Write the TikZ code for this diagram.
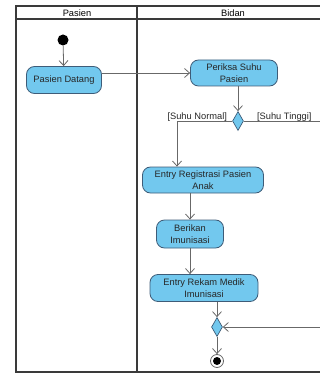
\documentclass[tikz,border=0pt]{standalone}
\usepackage{fontspec}
\setmainfont{Liberation Sans}
\usepackage{tikz}
\usetikzlibrary{arrows.meta,positioning,shapes.geometric}

\definecolor{actfill}{HTML}{72C8EE}
\definecolor{actline}{HTML}{3E5C78}
\definecolor{flowline}{HTML}{686868}
\definecolor{laneline}{HTML}{3A3A3A}

\begin{document}
\begin{tikzpicture}[
  x=1pt, y=-1pt,
  font=\fontsize{9.3}{12}\selectfont,
  act/.style={draw=actline, fill=actfill, rounded corners=8pt, line width=0.8pt,
              inner sep=2pt, align=center, text=black!85},
  decide/.style={diamond, draw=actline, fill=actfill, line width=0.7pt,
                 inner sep=0pt, minimum width=11pt, minimum height=19pt},
  arr/.style={-{Straight Barb[length=5pt, width=9pt]}, draw=flowline, line width=0.8pt},
  lane/.style={draw=laneline, line width=1.2pt},
  guard/.style={inner sep=1pt, text=black!85}]
  \useasboundingbox (0,0) rectangle (320,374);
  \clip (0,0) rectangle (320,374);
  % swimlanes
  \draw[lane] (16,6) rectangle (340,372);
  \draw[lane] (16,19) -- (340,19);
  \draw[lane] (137,6) -- (137,372);
  \node (hpas) at (77,13) {Pasien};
  \node (hbid) at (233,13) {Bidan};
  % activities
  \node[circle, fill=black, minimum size=11pt, inner sep=0pt] (start) at (63,40) {};
  \node[act, minimum width=75pt, minimum height=27pt] (datang) at (64,80) {Pasien Datang};
  \node[act, minimum width=87pt, minimum height=26pt] (periksa) at (234,73) {Periksa Suhu\\Pasien};
  \node[decide] (dec1) at (238,121) {};
  \node[act, minimum width=121pt, minimum height=26pt] (regis) at (203,180) {Entry Registrasi Pasien\\Anak};
  \node[act, minimum width=67pt, minimum height=28pt] (berikan) at (190,234) {Berikan\\Imunisasi};
  \node[act, minimum width=108pt, minimum height=27pt] (rekam) at (204,288) {Entry Rekam Medik\\Imunisasi};
  \node[decide] (dec2) at (217,327) {};
  \node[circle, draw=flowline, fill=white, line width=0.8pt, minimum size=13pt, inner sep=0pt] (end) at (217,361) {};
  \fill[black] (end.center) circle (4pt);
  \coordinate (tinggi) at (330,121);
  % guards
  \node[guard, anchor=south east] (gnorm) at ([xshift=-4pt, yshift=-2pt]dec1.west) {[Suhu Normal]};
  \node[guard, anchor=south west] (gting) at ([xshift=12pt, yshift=-2pt]dec1.east) {[Suhu Tinggi]};
  % flows
  \draw[arr] (start) -- (datang);
  \draw[arr] (datang.east |- periksa) -- (periksa.west);
  \draw[arr] (periksa.south -| dec1) -- (dec1.north);
  \draw[arr] (dec1.west) -| ([xshift=-26pt]regis.north);
  \draw[arr] (dec1.east) -- (tinggi) |- (dec2.east);
  \draw[arr] (regis.south -| berikan) -- (berikan.north);
  \draw[arr] (berikan.south) -- (rekam.north -| berikan);
  \draw[arr] (rekam.south -| dec2) -- (dec2.north);
  \draw[arr] (dec2) -- (end);
\end{tikzpicture}
\end{document}
